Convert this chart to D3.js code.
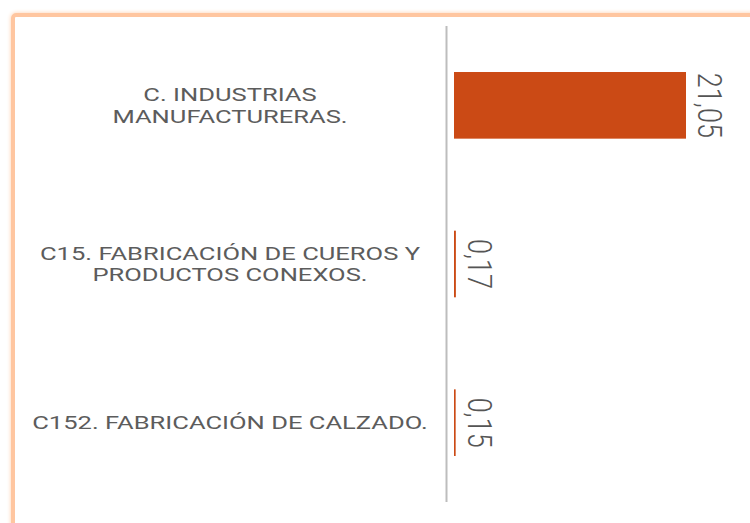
<!DOCTYPE html>
<html>
<head>
<meta charset="utf-8">
<script src="https://cdn.jsdelivr.net/npm/d3@7"></script>
<style>
  body { margin: 0; background: #fff; overflow: hidden; }
  .frame {
    position: absolute; left: 11px; top: 13px; width: 800px; height: 600px;
    border: 4px solid #ffc6a0; border-radius: 5px;
    box-shadow: 0 0 4px #ffcfac;
  }
  svg { position: absolute; left: 0; top: 0; }
</style>
</head>
<body>
<div class="frame"></div>
<div class="visual"></div>
<script>
//data
const categories = [
  ["C. INDUSTRIAS", "MANUFACTURERAS."],
  ["C15. FABRICACIÓN DE CUEROS Y", "PRODUCTOS CONEXOS."],
  ["C152. FABRICACIÓN DE CALZADO."]
];
const values = [21.05, 0.17, 0.15];
const valueLabels = ["21,05", "0,17", "0,15"];

//set constants
const width = 750, height = 523;
const stretch = 1.25;    // picture is stretched sideways
const labStretch = 1.42; // category labels are wider still
const barColor = "#cb4a15";

const svg = d3.select(".visual")
  .append("svg")
  .attr("width", width)
  .attr("height", height);

const yScale = d3.scaleBand()
  .domain(d3.range(values.length))
  .range([26, 502])
  .paddingInner(0.58)
  .paddingOuter(0.29);

const xScale = d3.scaleLinear()
  .domain([0, 21.05])
  .range([454, 686]);

//axis line
svg.append("line")
  .attr("x1", 446.5).attr("x2", 446.5)
  .attr("y1", 26).attr("y2", 502)
  .attr("stroke", "#bdbdbd")
  .attr("stroke-width", 2);

//bars
svg.selectAll(".bar")
  .data(values)
  .enter()
  .append("rect")
  .attr("class", "bar")
  .attr("x", xScale(0))
  .attr("y", (d, i) => yScale(i))
  .attr("width", d => xScale(d) - xScale(0))
  .attr("height", yScale.bandwidth())
  .attr("fill", barColor);

//value labels, rotated
svg.selectAll(".value")
  .data(values)
  .enter()
  .append("text")
  .attr("class", "value")
  .attr("transform", (d, i) => "translate(" + (xScale(d) + 12) + "," + (yScale(i) + yScale.bandwidth() / 2) + ") scale(" + stretch + ",1) rotate(90)")
  .attr("text-anchor", "middle")
  .style("font-family", "Roboto")
  .style("font-weight", 300)
  .style("font-size", "27px")
  .attr("fill", "#555")
  .text((d, i) => valueLabels[i]);

//category labels
const lab = svg.selectAll(".cat")
  .data(categories)
  .enter()
  .append("g")
  .attr("class", "cat")
  .attr("transform", (d, i) => {
    let cy = yScale(i) + yScale.bandwidth() / 2;
    let y0 = cy + 6.5 - (d.length - 1) * 11;
    return "translate(230," + y0 + ") scale(" + labStretch + ",1)";
  });
lab.selectAll("text")
  .data(d => d)
  .enter()
  .append("text")
  .attr("x", 0)
  .attr("y", (d, j) => j * 22)
  .attr("text-anchor", "middle")
  .style("font-family", "Roboto")
  .style("font-size", "18px")
  .attr("fill", "#5c5c5c")
  .text(d => d);
</script>
</body>
</html>
